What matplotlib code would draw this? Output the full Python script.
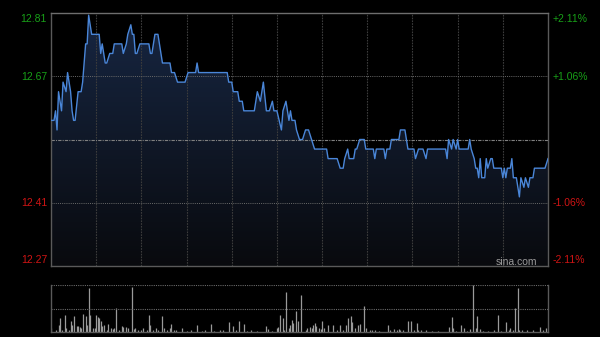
import numpy as np
import matplotlib
matplotlib.use("Agg")
import matplotlib.pyplot as plt

# ---------------- data ----------------
prev_close = 12.54
price_minutes = [0, 2, 3, 4, 5, 7, 8, 10, 11, 13, 14, 15, 16, 18, 20, 21, 23, 24, 25, 27,
                 32, 33, 34, 36, 37, 39, 41, 42, 47, 48, 50, 51, 53, 54, 55, 56, 57, 59, 65, 66,
                 67, 69, 71, 72, 74, 79, 80, 82, 84, 89, 91, 96, 97, 98, 117, 118, 120, 121, 124, 125,
                 127, 128, 135, 137, 139, 141, 143, 145, 147, 148, 150, 153, 154, 156, 158, 159, 160, 162, 163, 165,
                 167, 169, 171, 173, 175, 183, 184, 190, 192, 194, 195, 197, 198, 201, 202, 203, 205, 208, 209, 214,
                 215, 216, 221, 222, 223, 225, 226, 231, 232, 235, 236, 237, 241, 242, 244, 247, 249, 250, 262, 263,
                 264, 266, 267, 269, 270, 271, 277, 278, 279, 281, 282, 283, 284, 285, 286, 288, 289, 290, 292, 293,
                 294, 299, 300, 301, 302, 303, 305, 306, 307, 309, 311, 312, 314, 315, 317, 318, 320, 321, 328, 330]
prices = [12.58, 12.58, 12.60, 12.56, 12.64, 12.60, 12.66, 12.64, 12.68, 12.64, 12.60, 12.58, 12.58, 12.64, 12.64, 12.66, 12.74, 12.74, 12.80, 12.76,
          12.76, 12.72, 12.74, 12.70, 12.70, 12.72, 12.72, 12.74, 12.74, 12.72, 12.74, 12.76, 12.78, 12.76, 12.76, 12.72, 12.72, 12.74, 12.74, 12.72,
          12.72, 12.76, 12.76, 12.74, 12.70, 12.70, 12.68, 12.68, 12.66, 12.66, 12.68, 12.68, 12.70, 12.68, 12.68, 12.66, 12.66, 12.64, 12.64, 12.62,
          12.62, 12.60, 12.60, 12.64, 12.62, 12.66, 12.60, 12.60, 12.62, 12.60, 12.60, 12.56, 12.60, 12.62, 12.58, 12.60, 12.58, 12.58, 12.56, 12.54,
          12.54, 12.56, 12.56, 12.54, 12.52, 12.52, 12.50, 12.50, 12.48, 12.48, 12.50, 12.52, 12.50, 12.50, 12.52, 12.52, 12.54, 12.54, 12.52, 12.52,
          12.50, 12.52, 12.52, 12.50, 12.52, 12.52, 12.54, 12.54, 12.56, 12.56, 12.54, 12.52, 12.52, 12.50, 12.52, 12.52, 12.50, 12.52, 12.52, 12.50,
          12.54, 12.52, 12.54, 12.52, 12.54, 12.52, 12.52, 12.54, 12.52, 12.50, 12.48, 12.48, 12.46, 12.50, 12.46, 12.46, 12.50, 12.48, 12.50, 12.50,
          12.48, 12.48, 12.46, 12.48, 12.46, 12.48, 12.48, 12.50, 12.46, 12.46, 12.42, 12.46, 12.44, 12.46, 12.44, 12.46, 12.46, 12.48, 12.48, 12.50]

vol_minutes = [0, 3, 5, 6, 7, 9, 10, 12, 13, 14, 15, 17, 18, 19, 20, 21, 23, 24, 25, 26,
               28, 29, 30, 31, 32, 33, 34, 35, 37, 38, 40, 41, 42, 43, 45, 47, 48, 50, 51, 54,
               55, 56, 58, 60, 61, 64, 65, 66, 68, 70, 71, 74, 75, 77, 79, 80, 82, 83, 87, 90,
               93, 97, 100, 102, 106, 108, 112, 114, 118, 121, 123, 125, 128, 130, 133, 137, 143, 144, 147, 150,
               151, 152, 154, 155, 156, 158, 159, 160, 161, 163, 164, 166, 169, 170, 172, 173, 174, 175, 176, 178,
               179, 180, 181, 184, 187, 190, 192, 194, 196, 197, 199, 200, 202, 204, 205, 208, 209, 212, 213, 215,
               218, 224, 225, 228, 230, 231, 232, 234, 237, 239, 241, 243, 244, 246, 249, 253, 257, 264, 266, 267,
               269, 272, 274, 276, 278, 280, 282, 283, 285, 287, 290, 294, 297, 299, 302, 304, 305, 307, 308, 310,
               311, 313, 316, 320, 325, 327, 329]
volumes = [8.5, 4.9, 15.5, 29.6, 4.9, 35.9, 8.5, 4.9, 23.9, 15.5, 34.5, 12, 12, 9.9, 8.5, 38, 34.5, 15.5, 94.4, 36.6,
           8.5, 8.5, 36.6, 31, 29.6, 22.5, 12, 15.5, 4.9, 16.9, 8.5, 6.3, 8.5, 50.7, 4.9, 12, 9.9, 9.9, 8.5, 96,
           7, 8.5, 4.9, 3.5, 8.5, 4.9, 36.6, 15.5, 4.9, 8.5, 4.9, 33, 8.5, 4.9, 8.5, 16.9, 4.9, 3.5, 8.5, 2.8,
           3.5, 14, 2.8, 3.5, 17.6, 2.8, 4.2, 3.5, 21, 12, 4.9, 23.9, 17.6, 2.8, 4.2, 2.8, 12, 6.3, 2.8, 8.5,
           9.9, 36.6, 29.6, 4.9, 85.2, 8.5, 15.5, 26, 19, 43.7, 22.5, 78.9, 4.9, 8.5, 9.9, 8.5, 15.5, 19, 12, 8.5,
           7, 22.5, 8.5, 14, 14, 4.9, 15.5, 4.9, 15.5, 29.6, 33, 21, 8.5, 15.5, 16.9, 55.6, 8.5, 4.9, 4.9, 3.5,
           2.8, 14, 3.5, 6.3, 4.9, 6.3, 4.9, 3.5, 22.5, 23.9, 4.9, 19, 4.9, 3.5, 3.5, 2.8, 2.8, 9.9, 31, 8.5,
           2.8, 14, 8.5, 2.8, 7, 100, 8.5, 34.5, 7, 2.8, 2.8, 4.2, 36.6, 2.8, 20.4, 4.9, 8.5, 4.9, 50.7, 94.4,
           4.9, 4.2, 4.2, 4.2, 9.9, 4.9, 8.5]

left_labels = ["12.81", "12.67", "12.41", "12.27"]
right_labels = ["+2.11%", "+1.06%", "-1.06%", "-2.11%"]

# ---------------- figure ----------------
W, H = 600, 337
fig = plt.figure(figsize=(W / 100, H / 100), dpi=100, facecolor="black")
FONT = ["Liberation Sans", "DejaVu Sans"]

def fx(px):
    return px / W

def fy(py):
    return 1 - py / H

L, R = 51, 548
PT, PB = 13, 266
VT, VB = 285, 332

ax = fig.add_axes([fx(L), fy(PB), (R - L) / W, (PB - PT) / H])
ax.set_facecolor("black")
span = 0.0211 * prev_close
ymin, ymax = prev_close - span, prev_close + span
ax.set_xlim(0, 330)
ax.set_ylim(ymin, ymax)

# gradient fill under line
grad = np.linspace(1, 0, 256).reshape(-1, 1)
top_c = np.array([0.09, 0.15, 0.26])
bot_c = np.array([0.035, 0.04, 0.055])
img = bot_c + (top_c - bot_c) * grad
img = img.reshape(256, 1, 3)
im = ax.imshow(img, extent=[0, 330, ymin, ymax], aspect="auto", origin="upper", zorder=1)
poly = ax.fill_between(price_minutes, prices, ymin, color="none", lw=0)
path = poly.get_paths()[0]
im.set_clip_path(path, transform=ax.transData)

# grid
for m in range(30, 330, 30):
    ax.axvline(m, color="#3c3c3c", lw=0.8, ls=(0, (1.5, 1)), zorder=2)
up1 = prev_close * 1.0106
dn1 = prev_close * (1 - 0.0106)
for v in (up1, dn1):
    ax.axhline(v, color="#6a6a6a", lw=0.7, ls=(0, (1, 1.2)), zorder=2)
ax.axhline(prev_close, color="#808080", lw=0.8, ls=(0, (3, 1, 1, 1)), zorder=2)

ax.plot(price_minutes, prices, color="#4a86d8", lw=1.0, zorder=4)

ax.set_xticks([])
ax.set_yticks([])
for s in ax.spines.values():
    s.set_color("#5a5a5a")
    s.set_linewidth(1.0)
ax.spines["top"].set_color("#6e6e6e")

# labels
green = "#18a018"
red = "#d01414"
left_y = [19, 77, 203, 260]
colors = [green, green, red, red]
for t, yy, c in zip(left_labels, left_y, colors):
    fig.text(fx(47), fy(yy), t, color=c, ha="right", va="center", fontsize=7.5, family=FONT)
for t, yy, c in zip(right_labels, left_y, colors):
    fig.text(fx(553), fy(yy), t, color=c, ha="left", va="center", fontsize=7.5, family=FONT)

fig.text(fx(537), fy(265), "sina.com", color="#9a9a9a", ha="right", va="baseline",
         fontsize=7.5, family=FONT)

# volume panel
vax = fig.add_axes([fx(L), fy(VB), (R - L) / W, (VB - VT) / H])
vax.set_facecolor("black")
vax.set_xlim(0, 330)
vax.set_ylim(0, max(volumes))
vax.vlines(vol_minutes, 0, volumes, color="#9a9a9a", lw=0.9)
vax.axhline(max(volumes), color="#6a6a6a", lw=0.8, ls=(0, (1, 1)))
vax.axhline(max(volumes) / 2, color="#6a6a6a", lw=0.8, ls=(0, (1, 1)))
vax.set_xticks([])
vax.set_yticks([])
for k, s in vax.spines.items():
    s.set_color("#5a5a5a")
    s.set_linewidth(1.0)
vax.spines["top"].set_visible(False)

fig.savefig("out.png", dpi=100, facecolor="black")
